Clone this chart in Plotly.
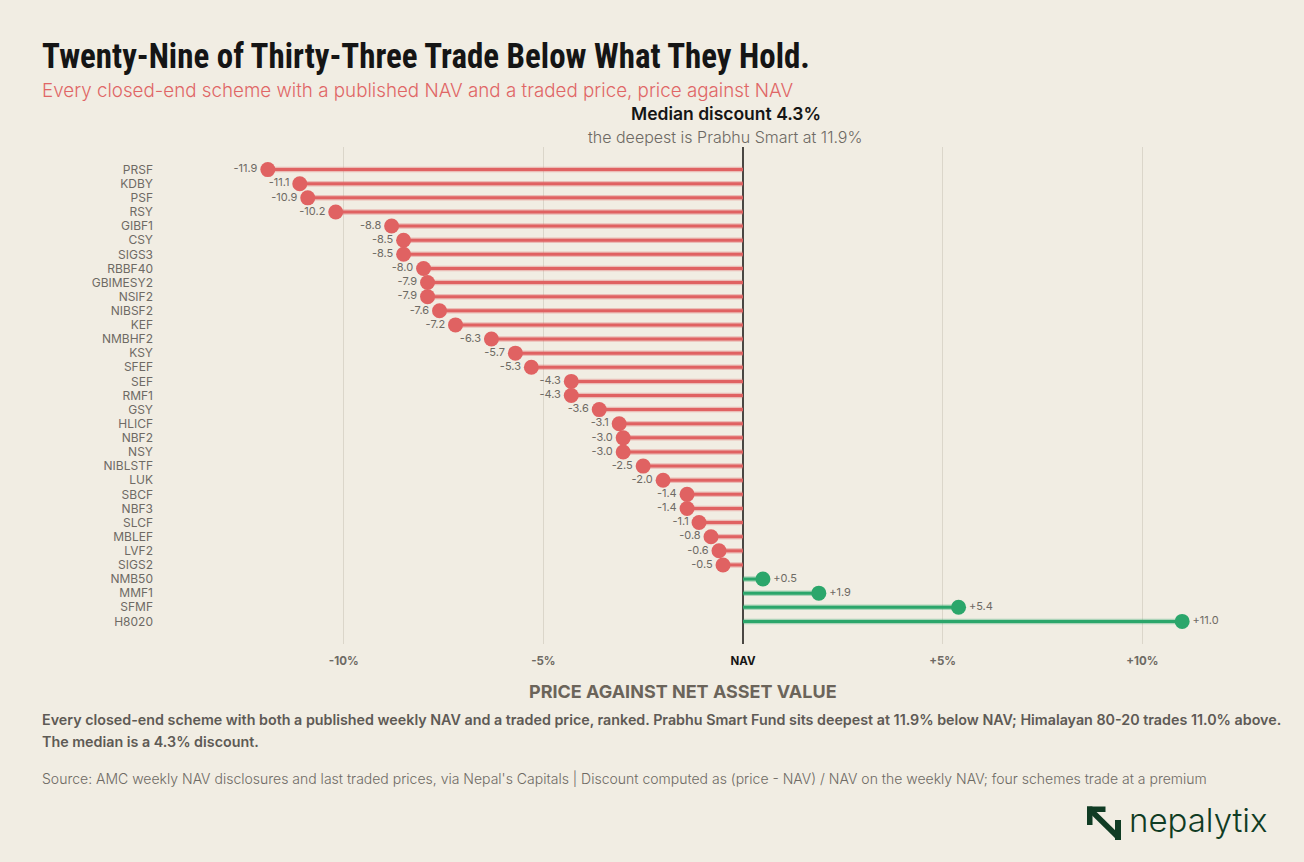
import plotly.graph_objects as go

# ---------------- data ----------------
schemes = ["PRSF", "KDBY", "PSF", "RSY", "GIBF1", "CSY", "SIGS3", "RBBF40", "GBIMESY2",
           "NSIF2", "NIBSF2", "KEF", "NMBHF2", "KSY", "SFEF", "SEF", "RMF1", "GSY",
           "HLICF", "NBF2", "NSY", "NIBLSTF", "LUK", "SBCF", "NBF3", "SLCF", "MBLEF",
           "LVF2", "SIGS2", "NMB50", "MMF1", "SFMF", "H8020"]
premium_pct = [-11.9, -11.1, -10.9, -10.2, -8.8, -8.5, -8.5, -8.0, -7.9,
               -7.9, -7.6, -7.2, -6.3, -5.7, -5.3, -4.3, -4.3, -3.6,
               -3.1, -3.0, -3.0, -2.5, -2.0, -1.4, -1.4, -1.1, -0.8,
               -0.6, -0.5, 0.5, 1.9, 5.4, 11.0]
x_tickvals = [-10, -5, 0, 5, 10]
x_ticktext = ["-10%", "-5%", "NAV", "+5%", "+10%"]

# ---------------- style ----------------
BG = "#F1EDE3"
RED = "#E06262"
RED_HALO = "rgba(224,98,98,0.35)"
GREEN = "#2BA66B"
GREEN_HALO = "rgba(43,166,107,0.35)"
GREY = "#6E6A64"
DARK = "#151515"
LOGO = "#103C24"
FONT = "Inter, Roboto, sans-serif"
TITLE_FONT = "Roboto Condensed, Open Sans Condensed, Noto Sans Condensed, Liberation Sans Narrow, DejaVu Sans Condensed, sans-serif"

W, H = 1304, 862
ML, MR, MT, MB = 184, 42, 147, 218
PW, PH = W - ML - MR, H - MT - MB


def px(xp):
    return (xp - ML) / PW


def py(yp):
    return (H - MB - yp) / PH


rows = list(range(len(schemes)))

fig = go.Figure()

for sign, col, halo in [(-1, RED, RED_HALO), (1, GREEN, GREEN_HALO)]:
    xs, ys = [], []
    for i, v in zip(rows, premium_pct):
        if (v < 0) == (sign < 0):
            xs += [v, 0, None]
            ys += [i, i, None]
    fig.add_trace(go.Scatter(x=xs, y=ys, mode="lines",
                             line=dict(color=halo, width=5.5), hoverinfo="skip"))
    fig.add_trace(go.Scatter(x=xs, y=ys, mode="lines",
                             line=dict(color=col, width=3), hoverinfo="skip"))

neg_idx = [i for i, v in zip(rows, premium_pct) if v < 0]
pos_idx = [i for i, v in zip(rows, premium_pct) if v >= 0]

fig.add_trace(go.Scatter(
    x=[premium_pct[i] for i in neg_idx], y=neg_idx, mode="markers+text",
    marker=dict(color=RED, size=15),
    text=[f"{premium_pct[i]:.1f}" for i in neg_idx],
    textposition="middle left",
    textfont=dict(family=FONT, size=11, color=GREY)))
fig.add_trace(go.Scatter(
    x=[premium_pct[i] for i in pos_idx], y=pos_idx, mode="markers+text",
    marker=dict(color=GREEN, size=15),
    text=[f"{premium_pct[i]:+.1f}" for i in pos_idx],
    textposition="middle right",
    textfont=dict(family=FONT, size=11, color=GREY)))

ticktext = [t if t != "NAV" else f'<span style="color:{DARK}">NAV</span>' for t in x_ticktext]

fig.update_layout(
    width=W, height=H,
    paper_bgcolor=BG, plot_bgcolor=BG,
    margin=dict(l=ML, r=MR, t=MT, b=MB),
    showlegend=False,
    font=dict(family=FONT, color=GREY),
    xaxis=dict(range=[-14, 13], tickvals=x_tickvals, ticktext=ticktext,
               showgrid=True, gridcolor="#DBD6CA", gridwidth=1,
               zeroline=True, zerolinecolor="#4A4743", zerolinewidth=1.5,
               showline=False, ticks="",
               tickfont=dict(family=FONT, size=11.5, color=GREY, weight="bold"),
               ticklabelstandoff=8, fixedrange=True),
    yaxis=dict(range=[len(schemes) - 1 + 1.6, -1.6], tickvals=rows, ticktext=schemes,
               showgrid=False, zeroline=False, showline=False, ticks="",
               tickfont=dict(family=FONT, size=12, color=GREY),
               ticklabelstandoff=30, fixedrange=True),
)

ann = [
    dict(text="Twenty-Nine of Thirty-Three Trade Below What They Hold.", x=40, y=57,
         xanchor="left", font=dict(family=TITLE_FONT, size=35, color=DARK, weight="bold")),
    dict(text="Every closed-end scheme with a published NAV and a traded price, price against NAV",
         x=40, y=90, xanchor="left", font=dict(family=FONT, size=18.8, color="#E06666", weight=300)),
    dict(text="Median discount 4.3%", x=726, y=114, xanchor="center",
         font=dict(family=FONT, size=17.5, color=DARK, weight=600)),
    dict(text="the deepest is Prabhu Smart at 11.9%", x=725, y=137, xanchor="center",
         font=dict(family=FONT, size=16, color=GREY, weight=300)),
    dict(text="PRICE AGAINST NET ASSET VALUE", x=683, y=691, xanchor="center",
         font=dict(family=FONT, size=18, color="#6B645A", weight="bold")),
    dict(text="Every closed-end scheme with both a published weekly NAV and a traded price, ranked. "
              "Prabhu Smart Fund sits deepest at 11.9% below NAV; Himalayan 80-20 trades 11.0% above.",
         x=40, y=719, xanchor="left", font=dict(family=FONT, size=14.3, color="#5E5A55", weight=600)),
    dict(text="The median is a 4.3% discount.", x=40, y=741, xanchor="left",
         font=dict(family=FONT, size=14.3, color="#5E5A55", weight=600)),
    dict(text="Source: AMC weekly NAV disclosures and last traded prices, via Nepal's Capitals | "
              "Discount computed as (price - NAV) / NAV on the weekly NAV; four schemes trade at a premium",
         x=40, y=778, xanchor="left", font=dict(family=FONT, size=14, color=GREY, weight=300)),
    dict(text="nepalytix", x=1127, y=820, xanchor="left",
         font=dict(family=FONT, size=33, color=LOGO, weight=300)),
]
for a in ann:
    fig.add_annotation(text=a["text"], x=px(a["x"]), y=py(a["y"]), xref="paper", yref="paper",
                       xanchor=a["xanchor"], yanchor="middle", showarrow=False, font=a["font"])


# logo mark (arrow)
def rect(x0, y0, x1, y1):
    fig.add_shape(type="rect", xref="paper", yref="paper",
                  x0=px(x0), x1=px(x1), y0=py(y1), y1=py(y0),
                  fillcolor=LOGO, line=dict(width=0))


rect(1087, 806.5, 1105.5, 812)
rect(1087, 806.5, 1092.5, 825)
rect(1115, 820, 1121, 840)
fig.add_shape(type="path", xref="paper", yref="paper",
              path=(f"M {px(1087)},{py(810)} L {px(1091)},{py(806.5)} "
                    f"L {px(1121)},{py(836)} L {px(1121)},{py(840)} L {px(1117)},{py(840)} "
                    f"L {px(1087)},{py(810.5)} Z"),
              fillcolor=LOGO, line=dict(width=0))

post = """
document.body.style.margin = '0';
document.body.style.background = '%s';
var gd = document.getElementById('{plot_id}');
var t = gd.querySelector('g.annotation[data-index="0"] text.annotation-text');
if (t) {
  var bb = t.getBBox();
  var s = 768 / bb.width;
  if (s < 1) {
    t.setAttribute('transform', 'translate(' + bb.x + ',0) scale(' + s + ',1) translate(' + (-bb.x) + ',0)');
  }
}
""" % BG

fig.write_html("out.html", post_script=post, config={"displayModeBar": False})
